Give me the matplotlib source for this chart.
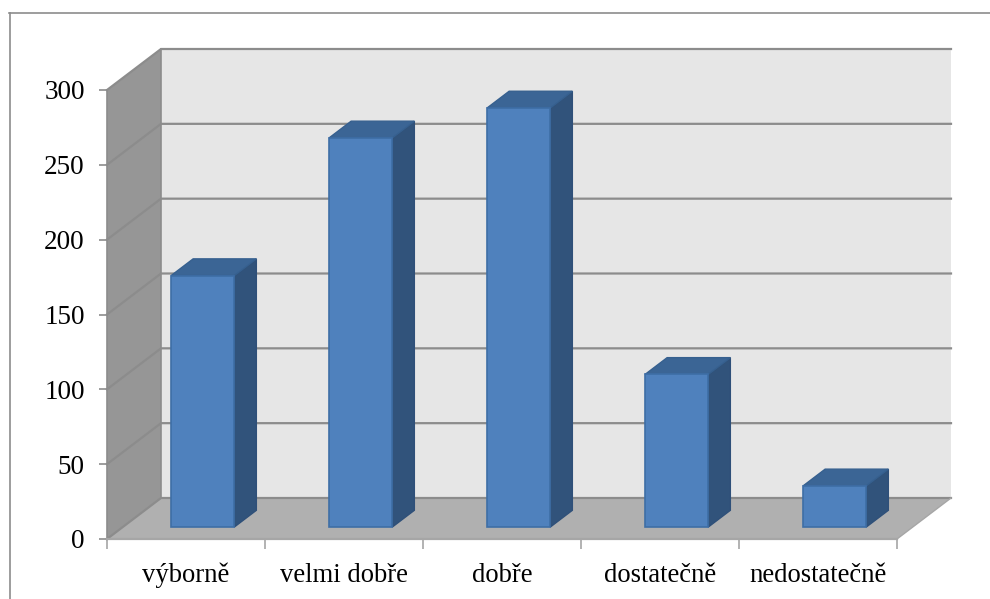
import matplotlib
matplotlib.use('Agg')
import matplotlib.pyplot as plt
from matplotlib.patches import Polygon

categories = ['výborně', 'velmi dobře', 'dobře', 'dostatečně', 'nedostatečně']
values = [168, 260, 280, 102, 27.5]
y_ticks = [0, 50, 100, 150, 200, 250, 300]

W, H = 990, 599
plt.rcParams['font.family'] = ['Liberation Serif', 'DejaVu Serif']

fig = plt.figure(figsize=(W / 100, H / 100), dpi=100)

# axes covers the front plane of the 3D box
left, right, top, bottom = 107, 897, 90, 539
ax = fig.add_axes([left / W, 1 - bottom / H, (right - left) / W, (bottom - top) / H])
ax.set_xlim(0, 5)
ax.set_ylim(0, 300)
ax.patch.set_visible(False)
for s in ax.spines.values():
    s.set_visible(False)

# depth offset of the back wall in data units
dx = 54 / 158
dy = 41 / (449 / 300)


def pt(x, y, d):
    return (x + dx * d, y + dy * d)


def poly(points, color, edge='none', lw=0, z=1):
    ax.add_patch(Polygon(points, closed=True, facecolor=color, edgecolor=edge,
                         linewidth=lw, zorder=z, clip_on=False))


# walls
poly([pt(0, 0, 1), pt(5, 0, 1), pt(5, 300, 1), pt(0, 300, 1)], '#e6e6e6')
poly([pt(0, 0, 0), pt(0, 0, 1), pt(0, 300, 1), pt(0, 300, 0)], '#969696')
poly([pt(0, 0, 0), pt(5, 0, 0), pt(5, 0, 1), pt(0, 0, 1)], '#b0b0b0')

# gridlines
grid = '#8c8c8c'
for v in y_ticks:
    xs, ys = zip(pt(0, v, 0), pt(0, v, 1), pt(5, v, 1))
    ax.plot(xs, ys, color=grid, lw=1.6, zorder=2, clip_on=False, solid_joinstyle='miter')
xs, ys = zip(pt(0, 0, 1), pt(0, 300, 1))
ax.plot(xs, ys, color=grid, lw=1.2, zorder=2, clip_on=False)
xs, ys = zip(pt(0, 0, 0), pt(0, 300, 0))
ax.plot(xs, ys, color=grid, lw=1.2, zorder=2, clip_on=False)
xs, ys = zip(pt(5, 0, 0), pt(5, 0, 1))
ax.plot(xs, ys, color='#a6a6a6', lw=1.0, zorder=2, clip_on=False)
ax.plot([0, 5], [0, 0], color='#a6a6a6', lw=1.6, zorder=2, clip_on=False)

# bars
bar_w = 0.40
d0, d1 = 0.29, 0.70
edge = '#3e6ea6'
for i, v in enumerate(values):
    x0 = i + 0.506 - bar_w / 2
    x1 = x0 + bar_w
    poly([pt(x1, 0, d0), pt(x1, 0, d1), pt(x1, v, d1), pt(x1, v, d0)], '#31537b', '#2f5079', 1, 3)
    poly([pt(x0, v, d0), pt(x1, v, d0), pt(x1, v, d1), pt(x0, v, d1)], '#3b6595', '#36608f', 1, 3)
    poly([pt(x0, 0, d0), pt(x1, 0, d0), pt(x1, v, d0), pt(x0, v, d0)], '#4f81bd', edge, 1.2, 4)

# ticks and labels
ax.set_xticks(range(6))
ax.set_xticklabels([])
ax.set_yticks(y_ticks)
ax.tick_params(axis='y', length=6, width=1.2, color='#8c8c8c', labelsize=19.5, pad=10)
ax.tick_params(axis='x', length=7, width=1.2, color='#a6a6a6', pad=0)
for i, name in enumerate(categories):
    ax.annotate(name, (i + 0.5, 0), xytext=(0, -17), textcoords='offset points',
                ha='center', va='top', fontsize=19.2, color='black', annotation_clip=False)

# outer frame of the picture
fig.add_artist(plt.Line2D([9.5 / W, 9.5 / W], [0, 1 - 13 / H], color='#8c8c8c', lw=1.2))
fig.add_artist(plt.Line2D([9 / W, 1], [1 - 13 / H, 1 - 13 / H], color='#8c8c8c', lw=1.2))

fig.savefig('out.png', dpi=100)
